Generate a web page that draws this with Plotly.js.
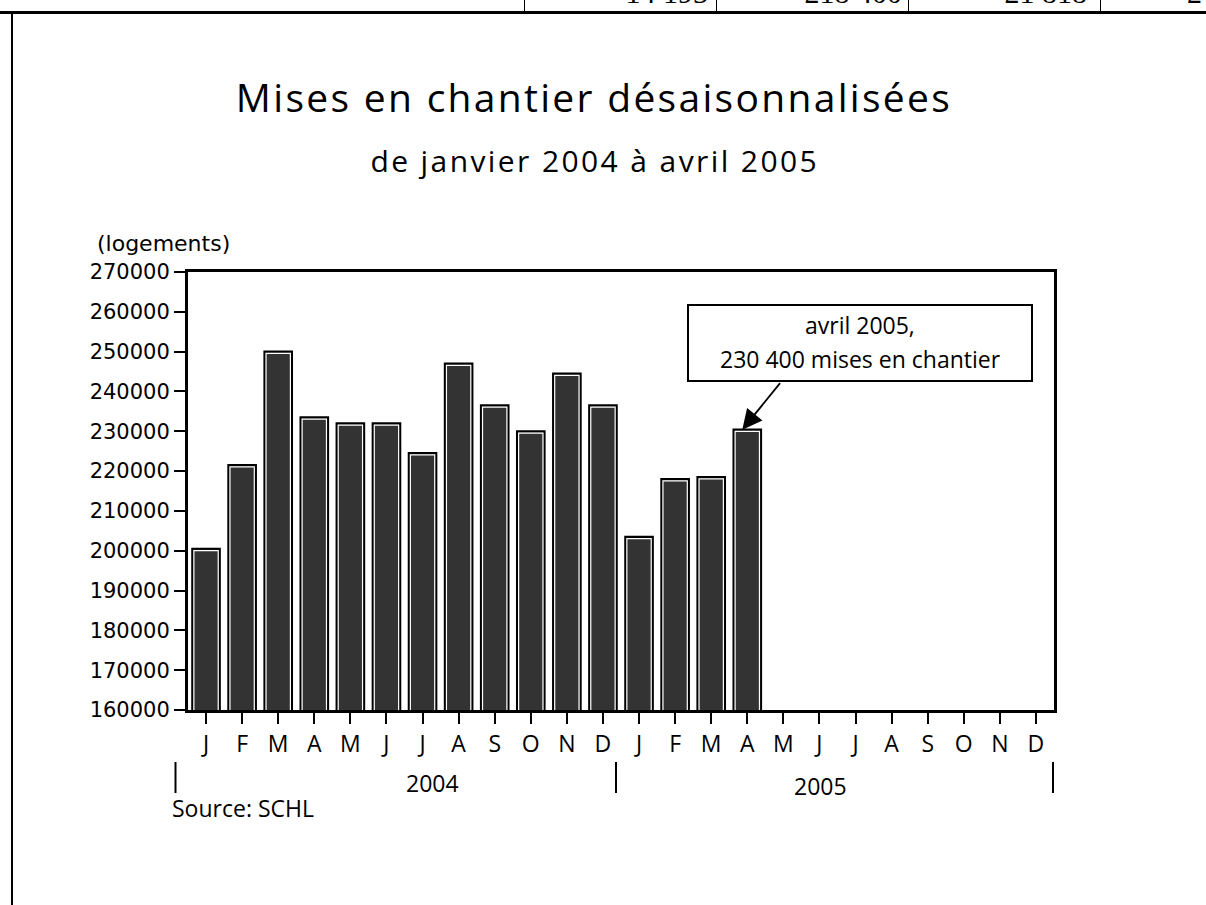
<!DOCTYPE html>
<html>
<head>
<meta charset="utf-8">
<script src="https://cdn.plot.ly/plotly-3.0.1.min.js"></script>
<style>
  html, body { margin: 0; padding: 0; width: 1206px; height: 905px; overflow: hidden; background: #fff; }
  #chart { position: absolute; left: 0; top: 0; width: 1206px; height: 905px; }
  .deco { position: absolute; background: #000; }
  .frag { position: absolute; font-family: "Liberation Serif", "Times New Roman", serif; font-size: 30px; line-height: 30px; color: #000; white-space: nowrap; }
  .gtitle { letter-spacing: 2.3px; }
</style>
</head>
<body>
<div id="chart"></div>
<!-- page frame and fragment of a table above the chart -->
<div class="deco" style="left:0;top:11px;width:1206px;height:3px;"></div>
<div class="deco" style="left:11px;top:11px;width:2px;height:894px;"></div>
<div class="deco" style="left:524px;top:0;width:1px;height:12px;"></div>
<div class="deco" style="left:716px;top:0;width:1px;height:12px;"></div>
<div class="deco" style="left:908px;top:0;width:1px;height:12px;"></div>
<div class="deco" style="left:1100px;top:0;width:1px;height:12px;"></div>
<div class="frag" style="right:498px;top:-22px;">14 193</div>
<div class="frag" style="right:304px;top:-22px;">218 400</div>
<div class="frag" style="right:119px;top:-22px;">21 818</div>
<div class="frag" style="left:1187px;top:-22px;">2</div>
<script>
// ---- data ----
const monthLabels = ['J','F','M','A','M','J','J','A','S','O','N','D',
                     'J','F','M','A','M','J','J','A','S','O','N','D'];
const years = ['2004', '2005'];
const starts = [200500, 221500, 250000, 233500, 232000, 232000, 224500, 247000,
                236500, 230000, 244500, 236500, 203500, 218000, 218500, 230400];
const yTicks = [160000,170000,180000,190000,200000,210000,220000,230000,240000,250000,260000,270000];
const noteText = ['avril 2005,', '230 400 mises en chantier'];
const subtitle = 'de janvier 2004 à avril 2005';
const lastIndex = starts.length - 1;

// ---- layout helpers (pixel -> paper) ----
const W = 1206, H = 905;
const M = {l: 188, r: 152, t: 272, b: 195};
const PW = W - M.l - M.r, PH = H - M.t - M.b;
const px = v => (v - M.l) / PW;
const py = v => (H - M.b - v) / PH;

const narrow = 'Open Sans, Lato, sans-serif';
const xs = starts.map((_, i) => i);

const outer = {
  type: 'bar', x: xs, y: starts, width: 0.76,
  marker: {color: '#333333', line: {color: '#000000', width: 2.2}},
  hoverinfo: 'skip', showlegend: false
};
const inner = {
  type: 'bar', x: xs, y: starts, width: 0.675, yaxis: 'y2',
  marker: {color: 'rgba(0,0,0,0)', line: {color: '#ffffff', width: 1.2}},
  hoverinfo: 'skip', showlegend: false
};

const shift = 450;
const layout = {
  width: W, height: H,
  margin: M,
  paper_bgcolor: 'rgba(0,0,0,0)', plot_bgcolor: '#ffffff',
  barmode: 'overlay',
  showlegend: false,
  title: {
    text: 'Mises en chantier désaisonnalisées',
    font: {family: narrow, size: 39, color: '#000'},
    x: 594 / W, xanchor: 'center', xref: 'container',
    y: 1 - 98 / H, yanchor: 'middle', yref: 'container'
  },
  xaxis: {
    range: [-0.5, 23.5], tickmode: 'array',
    tickvals: monthLabels.map((_, i) => i), ticktext: monthLabels,
    ticks: 'outside', ticklen: 11, tickwidth: 2, tickcolor: '#000',
    showline: true, linewidth: 3, linecolor: '#000', mirror: true,
    showgrid: false, zeroline: false,
    tickfont: {family: narrow, size: 23, color: '#000'}
  },
  yaxis: {
    range: [160000, 270000], tickmode: 'array', tickvals: yTicks,
    ticktext: yTicks.map(String),
    ticks: 'outside', ticklen: 11, tickwidth: 2, tickcolor: '#000',
    showline: true, linewidth: 3, linecolor: '#000', mirror: true,
    showgrid: false, zeroline: false,
    tickfont: {family: 'DejaVu Sans, sans-serif', size: 21, color: '#000'}
  },
  yaxis2: {
    overlaying: 'y', range: [160000 + shift, 270000 + shift],
    showticklabels: false, showline: false, showgrid: false, zeroline: false, ticks: ''
  },
  shapes: [
    {type: 'rect', xref: 'paper', yref: 'paper',
     x0: px(688), x1: px(1032), y0: py(381), y1: py(305),
     line: {color: '#000', width: 2}, fillcolor: '#ffffff', layer: 'above'},
    ...[175.5, 616, 1053].map(v => ({
      type: 'line', xref: 'paper', yref: 'paper',
      x0: px(v), x1: px(v), y0: py(762), y1: py(793),
      line: {color: '#000', width: 2}
    }))
  ],
  annotations: [
    {text: subtitle, xref: 'paper', yref: 'paper',
     x: px(594), y: py(160), xanchor: 'center', yanchor: 'middle', showarrow: false,
     font: {family: narrow, size: 30, color: '#000'}},
    {text: '(logements)', xref: 'paper', yref: 'paper',
     x: px(95), y: py(243), xanchor: 'left', yanchor: 'middle', showarrow: false,
     font: {family: 'DejaVu Sans, sans-serif', size: 22, color: '#000'}},
    {text: noteText[0], xref: 'paper', yref: 'paper',
     x: px(860), y: py(325), xanchor: 'center', yanchor: 'middle', showarrow: false,
     font: {family: narrow, size: 23, color: '#000'}},
    {text: noteText[1], xref: 'paper', yref: 'paper',
     x: px(860), y: py(359), xanchor: 'center', yanchor: 'middle', showarrow: false,
     font: {family: narrow, size: 23, color: '#000'}},
    {text: '', x: lastIndex, y: starts[lastIndex], xref: 'x', yref: 'y',
     showarrow: true, arrowhead: 2, arrowsize: 2.2, arrowwidth: 1.8, arrowcolor: '#000',
     ax: 39, ay: -48, xshift: -5, standoff: 0},
    {text: years[0], xref: 'paper', yref: 'paper',
     x: px(432), y: py(783), xanchor: 'center', yanchor: 'middle', showarrow: false,
     font: {family: narrow, size: 23, color: '#000'}},
    {text: years[1], xref: 'paper', yref: 'paper',
     x: px(820), y: py(786), xanchor: 'center', yanchor: 'middle', showarrow: false,
     font: {family: narrow, size: 23, color: '#000'}},
    {text: 'Source: SCHL', xref: 'paper', yref: 'paper',
     x: px(170), y: py(808), xanchor: 'left', yanchor: 'middle', showarrow: false,
     font: {family: narrow, size: 23, color: '#000'}}
  ]
};

Plotly.newPlot('chart', [outer, inner], layout, {displayModeBar: false, staticPlot: true}).then(() => {
  document.querySelectorAll('.annotation-text').forEach(t => {
    if (t.textContent === subtitle) t.style.letterSpacing = '2.4px';
  });
});
</script>
</body>
</html>
